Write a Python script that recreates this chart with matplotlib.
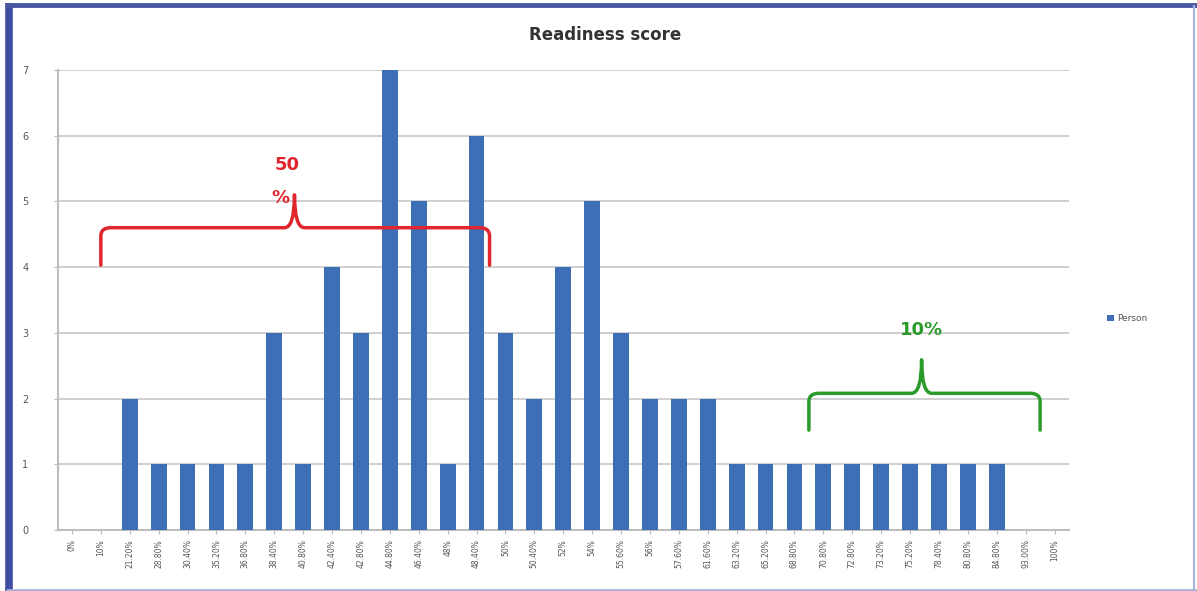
import matplotlib
matplotlib.use("Agg")
import matplotlib.pyplot as plt
from matplotlib.path import Path
from matplotlib.patches import PathPatch
from matplotlib.lines import Line2D
import numpy as np

categories = ["0%", "10%", "21.20%", "28.80%", "30.40%", "35.20%", "36.80%", "38.40%",
              "40.80%", "42.40%", "42.80%", "44.80%", "46.40%", "48%", "48.40%", "50%",
              "50.40%", "52%", "54%", "55.60%", "56%", "57.60%", "61.60%", "63.20%",
              "65.20%", "68.80%", "70.80%", "72.80%", "73.20%", "75.20%", "78.40%",
              "80.80%", "84.80%", "93.00%", "100%"]
person = [0, 0, 2, 1, 1, 1, 1, 3, 1, 4, 3, 7, 5, 1, 6, 3, 2, 4, 5, 3, 2, 2, 2,
          1, 1, 1, 1, 1, 1, 1, 1, 1, 1, 0, 0]
yticks = [0, 1, 2, 3, 4, 5, 6, 7]

fig = plt.figure(figsize=(11.97, 5.91), dpi=100)
ax = fig.add_axes([57.5/1197, 61/591, 1011.5/1197, 460/591])
x = np.arange(len(categories))
ax.bar(x, person, width=0.55, color="#3d6fb6", label="Person", zorder=3)
ax.set_xlim(-0.5, len(categories) - 0.5)
ax.set_ylim(0, 7)
ax.set_yticks(yticks)
ax.set_yticklabels([str(v) for v in yticks], fontsize=7, color="#555555")
ax.set_xticks(x)
ax.set_xticklabels(categories, rotation=90, fontsize=5.5, color="#555555")
ax.tick_params(axis="x", length=3, color="#bbbbbb")
ax.tick_params(axis="y", length=3, color="#bbbbbb", pad=18)
ax.grid(axis="y", color="#c8c8c8", linewidth=1.2, zorder=0)
for s in ["top", "right"]:
    ax.spines[s].set_visible(False)
ax.spines["left"].set_color("#bdbdbd")
ax.spines["left"].set_linewidth(1.5)
ax.spines["bottom"].set_color("#bdbdbd")
ax.spines["bottom"].set_linewidth(1.5)

fig.text(605/1197, 1 - 35/591, "Readiness score", ha="center", va="center",
         fontsize=12, fontweight="bold", color="#333333")

leg = ax.legend(loc="center left", bbox_to_anchor=(1.03, 0.46), frameon=False,
                fontsize=6.5, handlelength=0.7, handleheight=0.7, handletextpad=0.4)
for t in leg.get_texts():
    t.set_color("#555555")


def bracket(x0, x1, xc, yb, ye, yp, color):
    dx = 0.35
    dy = 0.12
    verts = [(x0, ye), (x0, yb - dy), (x0, yb), (x0 + dx, yb),
             (xc - dx, yb), (xc, yb), (xc, yp),
             (xc, yb), (xc + dx, yb),
             (x1 - dx, yb), (x1, yb), (x1, yb - dy), (x1, ye)]
    codes = [Path.MOVETO, Path.LINETO, Path.CURVE3, Path.CURVE3,
             Path.LINETO, Path.CURVE3, Path.CURVE3,
             Path.CURVE3, Path.CURVE3,
             Path.LINETO, Path.CURVE3, Path.CURVE3, Path.LINETO]
    ax.add_patch(PathPatch(Path(verts, codes), fill=False, edgecolor=color,
                           linewidth=2.5, zorder=5, clip_on=False,
                           capstyle="round", joinstyle="round"))

bracket(1.0, 14.45, 7.7, 4.6, 4.03, 5.1, "#e0252d")
bracket(25.5, 33.5, 29.4, 2.08, 1.52, 2.59, "#2a9a2a")
ax.text(7.45, 5.55, "50", color="#e0252d", fontsize=13, fontweight="bold",
        ha="center", va="center", zorder=6)
ax.text(7.2, 5.05, "%", color="#e0252d", fontsize=13, fontweight="bold",
        ha="center", va="center", zorder=6)
ax.text(29.4, 3.04, "10%", color="#2a9a2a", fontsize=13, fontweight="bold",
        ha="center", va="center", zorder=6)

W, H = 1197, 591
def fline(x0, y0, x1, y1, color, lw):
    fig.add_artist(Line2D([x0/W, x1/W], [1 - y0/H, 1 - y1/H], transform=fig.transFigure,
                          color=color, linewidth=lw, solid_capstyle="butt"))

fline(8.5, 3, 8.5, 591, "#3f4e9e", 5.5)
fline(6, 5, 1197, 5, "#4a58a3", 3.5)
fline(1194, 5, 1194, 591, "#a9b0dc", 1.5)
fline(6, 589.5, 1197, 589.5, "#a9b0dc", 2)

fig.savefig("out.png", dpi=100)
